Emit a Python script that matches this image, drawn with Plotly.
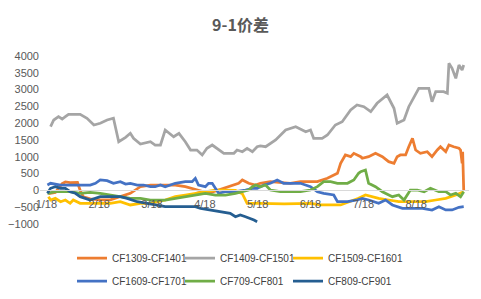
import plotly.graph_objects as go

# x = months since 1/18 (0 = 1/18, 1 = 2/18, ...)
tick_vals = [0, 1, 2, 3, 4, 5, 6, 7]
tick_text = ["1/18", "2/18", "3/18", "4/18", "5/18", "6/18", "7/18", "8/18"]

cf1309_x = [0.04, 0.17, 0.30, 0.36, 0.45, 0.59, 0.64, 0.70, 0.83, 1.02, 1.21, 1.37, 1.59, 1.78, 1.97, 2.16, 2.44, 2.63, 2.76, 2.98, 3.07, 3.26, 3.45, 3.64, 3.71, 3.83, 3.96, 4.05, 4.24, 4.62, 4.81, 5.13, 5.32, 5.51, 5.57, 5.66, 5.76, 5.82, 5.95, 5.98, 6.10, 6.23, 6.36, 6.48, 6.58, 6.64, 6.70, 6.80, 6.86, 6.93, 6.99, 7.08, 7.21, 7.30, 7.40, 7.46, 7.56, 7.62, 7.71, 7.81, 7.84, 7.87, 7.88, 7.90]
cf1309_y = [-100, -60, 200, 250, 230, 240, 0, -190, -250, -280, -280, -190, -86, 110, 160, 160, 160, 110, 62, -39, -86, 12, 110, 211, 310, 211, 160, 211, 260, 211, 260, 260, 360, 509, 806, 1054, 1004, 1104, 1004, 955, 1004, 1104, 1004, 855, 806, 1004, 1054, 1054, 1300, 1550, 1202, 1104, 1152, 1004, 1202, 1300, 1152, 1351, 1300, 1253, 1202, 806, 1152, 0]

cf1409_x = [0.08, 0.14, 0.23, 0.30, 0.36, 0.42, 0.64, 0.77, 0.90, 1.02, 1.15, 1.27, 1.37, 1.50, 1.59, 1.65, 1.78, 1.97, 2.06, 2.16, 2.25, 2.41, 2.51, 2.63, 2.73, 2.85, 2.95, 3.04, 3.14, 3.36, 3.55, 3.61, 3.71, 3.80, 3.90, 3.99, 4.05, 4.15, 4.34, 4.53, 4.72, 4.91, 5.00, 5.06, 5.22, 5.32, 5.47, 5.60, 5.76, 5.88, 6.01, 6.14, 6.26, 6.45, 6.58, 6.64, 6.77, 6.86, 7.05, 7.24, 7.30, 7.37, 7.52, 7.59, 7.62, 7.68, 7.75, 7.81, 7.87, 7.90]
cf1409_y = [1896, 2095, 2194, 2125, 2194, 2265, 2265, 2146, 1946, 1997, 2095, 2146, 1449, 1580, 1699, 1550, 1381, 1449, 1351, 1351, 1798, 1598, 1699, 1449, 1202, 1202, 1054, 1253, 1351, 1104, 1104, 1202, 1152, 1253, 1152, 1300, 1321, 1300, 1500, 1798, 1896, 1747, 1798, 1550, 1550, 1649, 1946, 2045, 2393, 2541, 2491, 2342, 2592, 2839, 2443, 1997, 2095, 2491, 3038, 3038, 2640, 2937, 2937, 2890, 3782, 3634, 3336, 3732, 3583, 3732]

cf1509_x = [0.04, 0.08, 0.17, 0.27, 0.36, 0.45, 0.51, 0.64, 0.83, 1.02, 1.21, 1.40, 1.59, 1.78, 1.97, 2.25, 2.44, 2.63, 2.82, 3.01, 3.20, 3.39, 3.58, 3.71, 3.80, 4.05, 4.50, 5.00, 5.19, 5.57, 5.76, 5.91, 6.04, 6.17, 6.29, 6.48, 6.67, 6.99, 7.18, 7.37, 7.56, 7.75, 7.90]
cf1509_y = [-187, -286, -236, -336, -286, -384, -286, -384, -384, -384, -384, -336, -434, -384, -384, -286, -187, -137, -86, -39, 12, 12, 0, -100, -384, -384, -400, -384, -434, -434, -336, -236, -137, -187, -236, -286, -336, -336, -336, -286, -236, -137, -39]

cf1609_x = [0.02, 0.08, 0.27, 0.64, 0.83, 0.93, 1.02, 1.15, 1.27, 1.40, 1.50, 1.59, 1.72, 1.84, 1.97, 2.06, 2.16, 2.25, 2.44, 2.63, 2.76, 2.82, 2.88, 3.01, 3.07, 3.14, 3.20, 3.26, 3.39, 3.58, 3.77, 3.90, 3.99, 4.12, 4.24, 4.37, 4.43, 4.49, 4.68, 4.81, 5.00, 5.13, 5.25, 5.44, 5.51, 5.70, 5.88, 5.98, 6.10, 6.29, 6.42, 6.55, 6.74, 6.93, 7.12, 7.30, 7.43, 7.56, 7.68, 7.81, 7.90]
cf1609_y = [160, 211, 160, 160, 160, 211, 310, 290, 211, 260, 190, 211, 160, 160, 110, 110, 160, 110, 211, 260, 260, 360, 160, 110, 211, 211, 62, -86, -39, -39, 12, 62, 62, 160, 211, 310, 260, 211, 211, 211, 110, -39, -86, -137, -336, -336, -286, -236, -286, -384, -286, -434, -533, -533, -533, -583, -485, -583, -583, -503, -485]

cf709_x = [0.02, 0.17, 0.27, 0.45, 0.64, 0.83, 1.02, 1.21, 1.40, 1.59, 1.78, 1.97, 2.25, 2.63, 3.01, 3.20, 3.39, 3.58, 3.71, 3.83, 3.90, 3.96, 4.05, 4.15, 4.24, 4.43, 4.62, 4.81, 5.00, 5.13, 5.25, 5.38, 5.51, 5.70, 5.82, 5.91, 5.95, 6.04, 6.10, 6.23, 6.36, 6.55, 6.67, 6.77, 6.89, 7.02, 7.15, 7.27, 7.43, 7.56, 7.65, 7.75, 7.84, 7.90]
cf709_y = [-86, -39, -39, -39, -86, -60, -86, -137, -187, -236, -236, -286, -286, -187, -86, -137, -137, -86, -39, 12, 110, 160, 110, 160, 12, -39, -39, -39, 12, 110, 260, 260, 211, 211, 310, 509, 557, 607, 211, 110, -39, -187, -137, -286, 12, 12, -39, 62, -39, -39, -137, -86, -187, -39]

cf809_x = [0.02, 0.08, 0.17, 0.27, 0.36, 0.45, 0.55, 0.64, 0.83, 1.02, 1.21, 1.40, 1.53, 1.72, 1.91, 2.06, 2.25, 2.63, 2.82, 2.92, 3.11, 3.30, 3.48, 3.58, 3.67, 3.77, 3.86, 3.93, 3.99]
cf809_y = [-86, 62, 110, 62, 62, -39, -86, -187, -286, -187, -187, -187, -236, -336, -384, -434, -485, -485, -485, -533, -583, -634, -682, -783, -732, -783, -830, -881, -932]

series = [
    ("CF1309-CF1401", cf1309_x, cf1309_y, "#ED7D31"),
    ("CF1409-CF1501", cf1409_x, cf1409_y, "#A5A5A5"),
    ("CF1509-CF1601", cf1509_x, cf1509_y, "#FFC000"),
    ("CF1609-CF1701", cf1609_x, cf1609_y, "#4472C4"),
    ("CF709-CF801", cf709_x, cf709_y, "#70AD47"),
    ("CF809-CF901", cf809_x, cf809_y, "#255E91"),
]

W, H = 481, 299
ML, MR, MT, MB = 40, 12, 56, 75
plot_w = W - ML - MR

# legend layout: 3 columns x 2 rows (pixel origins)
leg_cols = [72, 180, 288]
leg_rows = [258, 281]

fig = go.Figure()
layout_legends = {}
for i, (name, xs, ys, color) in enumerate(series):
    key = "legend" if i == 0 else f"legend{i + 1}"
    fig.add_trace(go.Scatter(x=xs, y=ys, name=name, mode="lines",
                             line=dict(color=color, width=2.75), legend=key))
    col, row = i % 3, i // 3
    layout_legends[key] = dict(
        orientation="h", xref="paper", yref="container", xanchor="left", yanchor="middle",
        x=(leg_cols[col] - ML) / plot_w, y=1 - leg_rows[row] / H,
        font=dict(family="Liberation Sans, Arial", size=10, color="#404040"),
        itemwidth=30, bgcolor="rgba(0,0,0,0)")

fig.update_layout(
    width=W, height=H,
    margin=dict(l=ML, r=MR, t=MT, b=MB, autoexpand=False),
    paper_bgcolor="white", plot_bgcolor="white",
    title=dict(text="<b>9-1价差</b>", x=0.5, xanchor="center", y=0.915, yanchor="middle",
               font=dict(family="Noto Sans CJK SC", size=16, color="#595959")),
    xaxis=dict(range=[-0.12, 8.0], tickvals=tick_vals, ticktext=tick_text,
               showgrid=False, zeroline=False, showline=True, linecolor="#D9D9D9", linewidth=1,
               anchor="free", position=0.2, ticks="", automargin=False, ticklabelstandoff=3,
               tickfont=dict(family="Liberation Sans, Arial", size=11, color="#595959")),
    yaxis=dict(range=[-1000, 4000], dtick=500, showgrid=False, zeroline=False, showline=False,
               ticks="", automargin=False,
               tickfont=dict(family="Liberation Sans, Arial", size=11, color="#595959")),
    showlegend=True,
    **layout_legends,
)

fig.write_html("out.html")
